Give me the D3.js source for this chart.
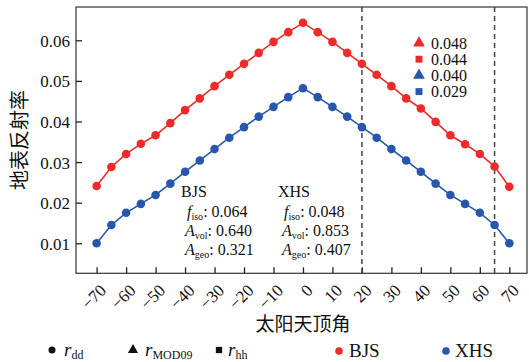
<!DOCTYPE html>
<html><head><meta charset="utf-8">
<script src="https://cdn.jsdelivr.net/npm/d3@7"></script>
<style>
body{margin:0;background:#fff;}
svg{display:block;}
text{font-family:"Liberation Serif","Times New Roman",serif;fill:#111;}
.cjk{font-family:"Noto Sans CJK SC",sans-serif;}
</style></head><body>
<svg id="chart" width="529" height="362"></svg>
<script>
const angles = [-70,-65,-60,-55,-50,-45,-40,-35,-30,-25,-20,-15,-10,-5,0,5,10,15,20,25,30,35,40,45,50,55,60,65,70];
const bjs = [0.0241,0.0288,0.0320,0.0345,0.0366,0.0396,0.0428,0.0457,0.0487,0.0515,0.0542,0.0569,0.0596,0.0620,0.0643,0.0620,0.0596,0.0569,0.0542,0.0515,0.0487,0.0457,0.0432,0.0399,0.0366,0.0344,0.0320,0.0289,0.0239];
const xhs = [0.0100,0.0145,0.0175,0.0197,0.0219,0.0247,0.0276,0.0304,0.0332,0.0360,0.0386,0.0412,0.0436,0.0460,0.0482,0.0460,0.0436,0.0412,0.0386,0.0360,0.0332,0.0304,0.0276,0.0247,0.0219,0.0197,0.0175,0.0145,0.0100];
const xTicks = [-70,-60,-50,-40,-30,-20,-10,0,10,20,30,40,50,60,70];
const yTicks = [0.01,0.02,0.03,0.04,0.05,0.06];
const dashedAngles = [20,65];
const cornerLegend = [
  {label:"0.048", shape:"triangle", series:"BJS"},
  {label:"0.044", shape:"square", series:"BJS"},
  {label:"0.040", shape:"triangle", series:"XHS"},
  {label:"0.029", shape:"square", series:"XHS"}
];
const params = [
  {site:"BJS", fiso:"0.064", avol:"0.640", ageo:"0.321"},
  {site:"XHS", fiso:"0.048", avol:"0.853", ageo:"0.407"}
];
const colors = {BJS:"#ee2a2a", XHS:"#2756ad"};

const svg = d3.select("#chart");
const W = 529, H = 362;
const m = {left:76, top:7, right:2, bottom:88.7};
const x = d3.scaleLinear().domain([-77,76]).range([m.left, W - m.right]);
const y = d3.scaleLinear().domain([0.0026,0.0682]).range([H - m.bottom, m.top]);

// frame
svg.append("rect").attr("x",m.left).attr("y",m.top)
  .attr("width",W-m.right-m.left).attr("height",H-m.bottom-m.top)
  .attr("fill","none").attr("stroke","#333").attr("stroke-width",1.2);

// axes with inward ticks
const xAxis = svg.append("g").attr("transform",`translate(0,${H-m.bottom})`)
  .call(d3.axisBottom(x).tickValues(xTicks).tickSize(-6).tickFormat(""));
xAxis.select(".domain").remove();
xAxis.selectAll("line").attr("stroke","#222").attr("stroke-width",1.3);
xAxis.selectAll(".tick").append("text")
  .attr("transform","translate(6,14) rotate(-45)")
  .attr("text-anchor","end").attr("dy","0.35em")
  .attr("font-size",17).attr("fill","#111")
  .text(d => d < 0 ? "\u2212" + Math.abs(d) : d);

const yAxis = svg.append("g").attr("transform",`translate(${m.left},0)`)
  .call(d3.axisLeft(y).tickValues(yTicks).tickSize(-6).tickFormat(""));
yAxis.select(".domain").remove();
yAxis.selectAll("line").attr("stroke","#222").attr("stroke-width",1.3);
yAxis.selectAll(".tick").append("text")
  .attr("x",-6).attr("dy","0.35em").attr("text-anchor","end")
  .attr("font-size",17).attr("fill","#111")
  .text(d => d.toFixed(2));

// dashed lines
svg.selectAll(".dash").data(dashedAngles).enter().append("line")
  .attr("x1",d=>x(d)).attr("x2",d=>x(d)).attr("y1",m.top).attr("y2",H-m.bottom)
  .attr("stroke","#444").attr("stroke-width",1.5).attr("stroke-dasharray","5,4");

// series
const series = [{name:"BJS", vals:bjs},{name:"XHS", vals:xhs}];
const line = d3.line().x((d,i)=>x(angles[i])).y(d=>y(d));
series.forEach(s=>{
  svg.append("path").datum(s.vals).attr("d",line)
    .attr("fill","none").attr("stroke",colors[s.name]).attr("stroke-width",1.6);
  svg.selectAll(null).data(s.vals).enter().append("circle")
    .attr("cx",(d,i)=>x(angles[i])).attr("cy",d=>y(d)).attr("r",4.3)
    .attr("fill",colors[s.name]);
});

// corner legend
const sym = {triangle:d3.symbolTriangle, square:d3.symbolSquare};
cornerLegend.forEach((d,i)=>{
  const yy = 43 + i*16.2;
  svg.append("path").attr("d",d3.symbol().type(sym[d.shape]).size(d.shape==="triangle"?60:48)())
    .attr("transform",`translate(419,${yy})`).attr("fill",colors[d.series]);
  svg.append("text").attr("x",431).attr("y",yy).attr("dy","0.35em")
    .attr("font-size",16).text(d.label);
});

// parameter annotations
const px = [181, 278];
params.forEach((p,i)=>{
  const x0 = px[i];
  svg.append("text").attr("x",x0).attr("y",197).attr("font-size",16).text(p.site);
  const rows = [["f","iso",p.fiso],["A","vol",p.avol],["A","geo",p.ageo]];
  rows.forEach((r,j)=>{
    const t = svg.append("text").attr("x",x0+(j===0?6:4)).attr("y",217+j*19).attr("font-size",16);
    t.append("tspan").attr("font-style","italic").text(r[0]);
    t.append("tspan").attr("font-size",10).attr("dy",3).text(r[1]);
    t.append("tspan").attr("dy",-3).text(": " + r[2]);
  });
});

// axis titles
svg.append("text").attr("class","cjk").attr("x",x(0)).attr("y",331)
  .attr("text-anchor","middle").attr("font-size",19).text("太阳天顶角");
svg.append("text").attr("class","cjk")
  .attr("transform",`translate(27,${140}) rotate(-90)`)
  .attr("text-anchor","middle").attr("font-size",20).text("地表反射率");

// bottom legend
const ly = 351;
const leg = svg.append("g");
leg.append("circle").attr("cx",52).attr("cy",ly-1).attr("r",3.5).attr("fill","#111");
let t1 = leg.append("text").attr("x",64).attr("y",ly+5).attr("font-size",19);
t1.append("tspan").attr("font-style","italic").text("r");
t1.append("tspan").attr("font-size",12).attr("dy",3).text("dd");
leg.append("path").attr("d",d3.symbol().type(d3.symbolTriangle).size(45)())
  .attr("transform",`translate(133,${ly-1})`).attr("fill","#111");
let t2 = leg.append("text").attr("x",145).attr("y",ly+5).attr("font-size",19);
t2.append("tspan").attr("font-style","italic").text("r");
t2.append("tspan").attr("font-size",12).attr("dy",3).text("MOD09");
leg.append("path").attr("d",d3.symbol().type(d3.symbolSquare).size(40)())
  .attr("transform",`translate(219,${ly-1})`).attr("fill","#111");
let t3 = leg.append("text").attr("x",228).attr("y",ly+5).attr("font-size",19);
t3.append("tspan").attr("font-style","italic").text("r");
t3.append("tspan").attr("font-size",12).attr("dy",3).text("hh");
leg.append("circle").attr("cx",339).attr("cy",ly).attr("r",3.8).attr("fill",colors.BJS);
leg.append("text").attr("x",349).attr("y",ly+6).attr("font-size",19).text("BJS");
leg.append("circle").attr("cx",446).attr("cy",ly).attr("r",3.8).attr("fill",colors.XHS);
leg.append("text").attr("x",455).attr("y",ly+6).attr("font-size",19).text("XHS");
</script>
</body></html>
